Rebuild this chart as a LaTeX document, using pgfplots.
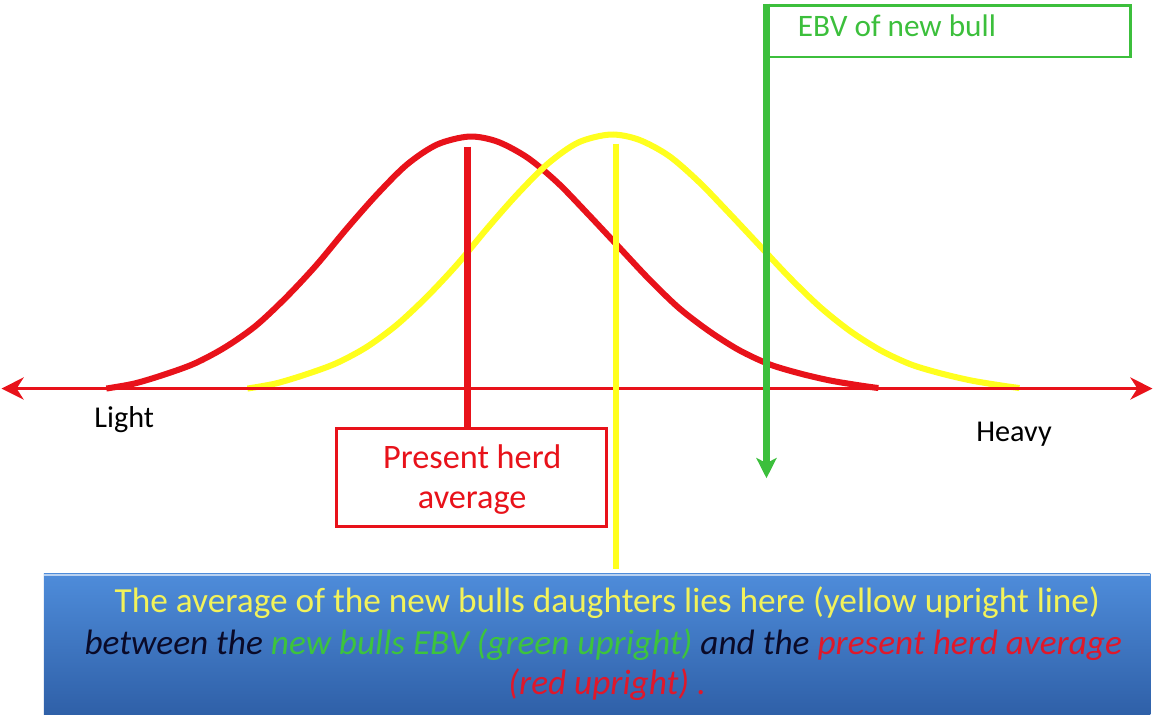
\documentclass[border=0pt]{standalone}
\usepackage{pgfplots}
\pgfplotsset{compat=1.18}
\usepackage{fontspec}
\setmainfont{Carlito}
\usetikzlibrary{arrows.meta}

\definecolor{cRed}{HTML}{E8121A}
\definecolor{cYel}{HTML}{FFFF1E}
\definecolor{cGrn}{HTML}{3CBF3C}
\definecolor{tYel}{HTML}{F2F25A}
\definecolor{tGrn}{HTML}{3DC43D}
\definecolor{tRed}{HTML}{E0182A}
\definecolor{tNav}{HTML}{0A0A28}
\definecolor{bTop}{HTML}{4E8CDA}
\definecolor{bBot}{HTML}{2F60A8}

\begin{document}
\begin{tikzpicture}
\begin{axis}[
    scale only axis,
    width=1154pt,
    height=716pt,
    xmin=0, xmax=1154,
    ymin=0, ymax=716,
    y dir=reverse,
    hide axis,
    clip=false,
]
% herd distribution (red)
\addplot[cRed, line width=6pt, smooth] coordinates {
  (112,393) (140,388) (170,379) (200,368) (230,352) (260,331) (290,303)
  (320,271) (350,235) (380,201) (410,171) (440,151) (472,143) (500,148)
  (530,164) (560,189) (590,220) (620,252) (650,284) (680,313) (710,336)
  (740,355) (770,369) (800,378) (830,385) (860,390) (878,392.5)
};
% daughters distribution (yellow)
\addplot[cYel, line width=6pt, smooth] coordinates {
  (252,393) (280,388) (310,379) (340,368) (370,352) (400,330) (430,302)
  (460,270) (490,234) (520,200) (550,170) (580,149) (612,141) (640,146)
  (670,162) (700,188) (730,219) (760,251) (790,283) (820,312) (850,336)
  (880,355) (910,369) (940,378) (970,385) (1000,390) (1018,392.5)
};
% weight axis
\addplot[cRed, line width=3pt, {Stealth[length=22pt,width=22pt,inset=7pt]}-{Stealth[length=22pt,width=22pt,inset=7pt]}]
  coordinates {(8,393) (1150,393)};
% uprights
\addplot[cRed, line width=7pt] coordinates {(470,153) (470,432)};
\addplot[cYel, line width=6pt] coordinates {(618,150) (618,572)};
\addplot[cGrn, line width=7pt, -{Stealth[length=20pt,width=20pt,inset=5pt]}] coordinates {(767,11) (767,482)};

% labels
\node[font=\fontsize{30}{36}\selectfont, anchor=base west, inner sep=0pt] at (axis cs:100,432) {Light};
\node[font=\fontsize{30}{36}\selectfont, anchor=base west, inner sep=0pt] at (axis cs:975,446) {Heavy};

\draw[cRed, line width=3pt, fill=white] (axis cs:340,433) rectangle (axis cs:608,530);
\node[cRed, font=\fontsize{34}{40}\selectfont, anchor=base, inner sep=0pt] at (axis cs:475,472) {Present herd};
\node[cRed, font=\fontsize{34}{40}\selectfont, anchor=base, inner sep=0pt] at (axis cs:475,512) {average};

\draw[cGrn, line width=2.5pt] (axis cs:768,13) rectangle (axis cs:1128,64);
\node[cGrn, font=\fontsize{31}{36}\selectfont, anchor=base west, inner sep=0pt] at (axis cs:798,44) {EBV of new bull};

% explanation box
\fill[top color=bTop, bottom color=bBot] (axis cs:50,577) rectangle (axis cs:1148,716);
\draw[white!60!bTop, line width=1.5pt] (axis cs:50,578) -- (axis cs:1148,578);
\node[font=\fontsize{35}{41}\selectfont, anchor=base, inner sep=0pt] at (axis cs:609,615)
  {\textcolor{tYel}{The average of the new bulls daughters lies here (yellow upright line)}};
\node[font=\fontsize{35}{41}\selectfont\itshape, anchor=base, inner sep=0pt] at (axis cs:605,657)
  {\textcolor{tNav}{between the} \textcolor{tGrn}{new bulls EBV (green upright)} \textcolor{tNav}{and the} \textcolor{tRed}{present herd average}};
\node[font=\fontsize{35}{41}\selectfont\itshape, anchor=base, inner sep=0pt] at (axis cs:609,697)
  {\textcolor{tRed}{(red upright) .}};
\end{axis}
\end{tikzpicture}
\end{document}
